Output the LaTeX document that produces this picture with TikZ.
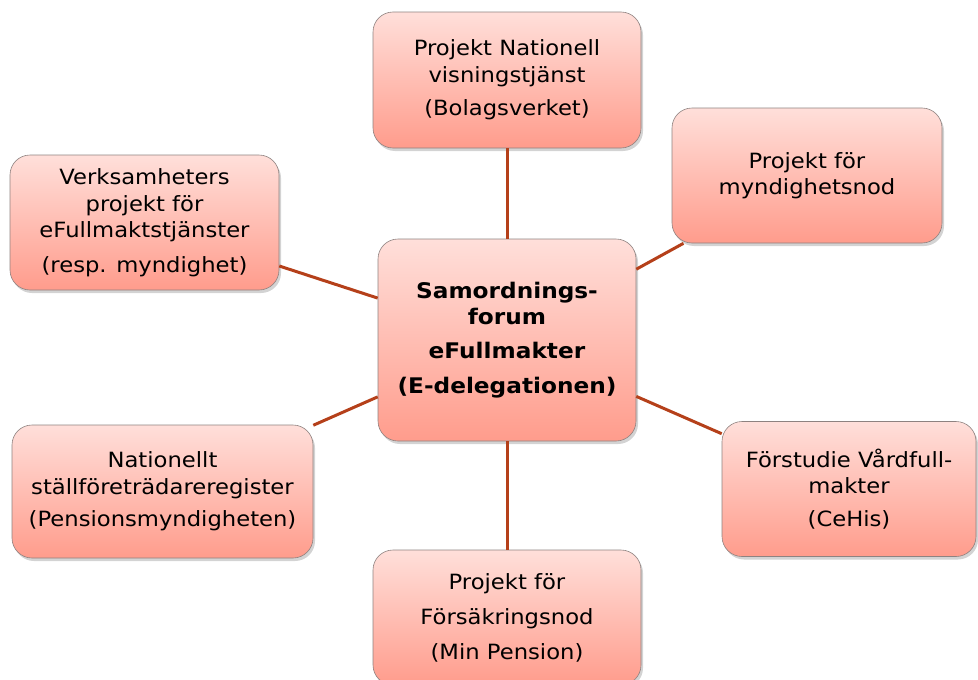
\documentclass[tikz,border=0pt]{standalone}
\usepackage{fontspec}
\setmainfont[FakeStretch=1.08]{DejaVu Sans}
\usetikzlibrary{shadows}
\definecolor{boxtop}{HTML}{FFDFDA}
\definecolor{boxbot}{HTML}{FF9C8C}
\definecolor{boxline}{HTML}{8E8280}
\definecolor{linkcol}{HTML}{B5401A}
\tikzset{
  box/.style={draw=boxline, line width=0.6pt, rounded corners=20pt,
    top color=boxtop, bottom color=boxbot, align=center,
    drop shadow={shadow xshift=2pt, shadow yshift=-3pt, opacity=0.35},
    font=\fontsize{21}{26.5}\selectfont, inner sep=2pt},
  link/.style={draw=linkcol, line width=3pt}
}
\begin{document}
\begin{tikzpicture}[x=1pt,y=-1pt]
\useasboundingbox (0,0) rectangle (978,680);
\node[box, minimum width=258pt, minimum height=202pt, font=\bfseries\fontsize{21.5}{26}\selectfont] (c) at (507,340)
  {Samordnings-\\forum\\[8.5pt]eFullmakter\\[9pt](E-delegationen)};
\node[box, minimum width=268pt, minimum height=136pt] (t) at (507,80)
  {Projekt Nationell\\visningstjänst\\[7pt](Bolagsverket)};
\node[box, minimum width=270pt, minimum height=135pt] (tr) at (807,175.5)
  {Projekt för\\myndighetsnod};
\node[box, minimum width=269pt, minimum height=135pt] (lt) at (144.5,222.5)
  {Verksamheters\\projekt för\\eFullmaktstjänster\\[8pt](resp. myndighet)};
\node[box, minimum width=301pt, minimum height=133pt] (lb) at (162.5,491.5)
  {Nationellt\\ställföreträdareregister\\[6pt](Pensionsmyndigheten)};
\node[box, minimum width=254pt, minimum height=135pt] (rb) at (849,489)
  {Förstudie Vårdfull-\\makter\\[6pt](CeHis)};
\node[box, minimum width=268pt, minimum height=135pt] (b) at (507,617.5)
  {Projekt för\\[8.5pt]Försäkringsnod\\[8.5pt](Min Pension)};
\draw[link] (c) -- (t);
\draw[link] (c) -- (tr);
\draw[link] (c) -- (lt);
\draw[link] (c) -- (lb);
\draw[link] (c) -- (rb);
\draw[link] (c) -- (b);
\end{tikzpicture}
\end{document}
